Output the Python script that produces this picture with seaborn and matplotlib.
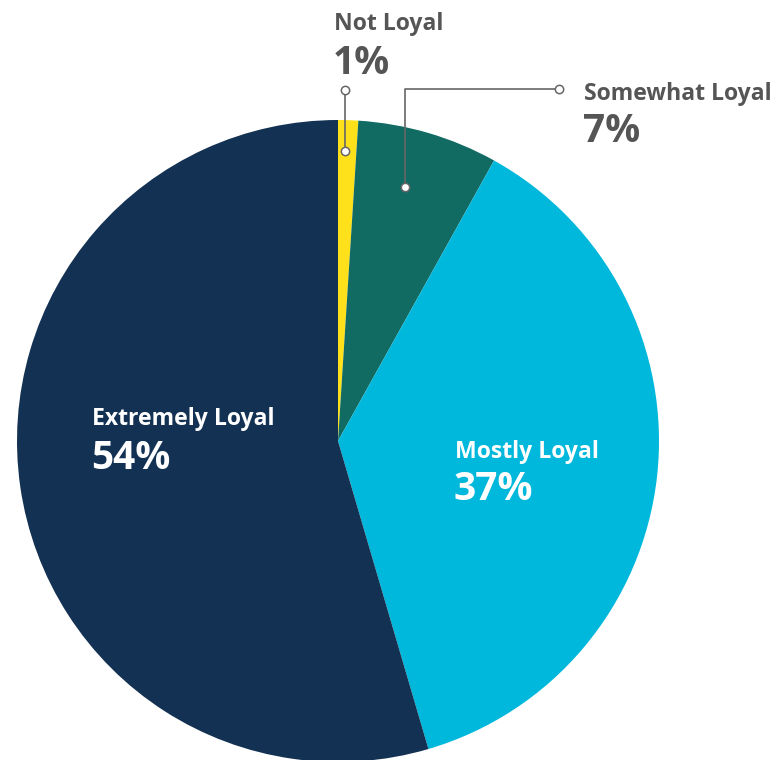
import matplotlib
matplotlib.use("Agg")
import matplotlib.pyplot as plt
import seaborn as sns

# Loyalty survey shares (percent), clockwise from the top
categories = ["Not Loyal", "Somewhat Loyal", "Mostly Loyal", "Extremely Loyal"]
values = [1, 7, 37, 54]
colors = ["#FFE11B", "#126B63", "#00B8DB", "#133152"]

sns.set_theme(style="white")
plt.rcParams["font.family"] = ["Open Sans", "DejaVu Sans"]

W, H = 778, 760
fig = plt.figure(figsize=(W / 100, H / 100), dpi=100)
ax = fig.add_axes([0, 0, 1, 1])

cx, cy, r = 338, H - 441, 321
wedges, _ = ax.pie(values, colors=sns.color_palette(colors), startangle=90,
                   counterclock=False, center=(cx, cy), radius=r,
                   wedgeprops=dict(linewidth=0), frame=True)
ax.set_xlim(0, W)
ax.set_ylim(0, H)
ax.set_aspect("equal")
ax.axis("off")

gray = "#555555"
label_fs, pct_fs = 16.6, 28


def Y(py):
    return H - py


def label(x, y_lab, y_pct, name, val, color):
    ax.text(x, Y(y_lab), name, fontsize=label_fs, fontweight="bold",
            color=color, ha="left", va="baseline")
    ax.text(x - 1, Y(y_pct), f"{val}%", fontsize=pct_fs, fontweight="bold",
            color=color, ha="left", va="baseline")


label(334, 30, 74, categories[0], values[0], gray)
label(584, 100, 142, categories[1], values[1], gray)
label(455, 458, 500, categories[2], values[2], "white")
label(92, 425, 469, categories[3], values[3], "white")

# leader lines for the two thin slices
line_kw = dict(color="#666666", lw=1.2, zorder=3)
dot_kw = dict(marker="o", ms=6, mfc="white", mec="#666666", mew=1.1,
              ls="none", zorder=4)
ax.plot([345, 345], [Y(90), Y(151)], **line_kw)
ax.plot([345, 345], [Y(90), Y(151)], **dot_kw)
ax.plot([405, 405, 559], [Y(187), Y(89), Y(89)], **line_kw)
ax.plot([405, 559], [Y(187), Y(89)], **dot_kw)

fig.savefig("out.png", dpi=100)
